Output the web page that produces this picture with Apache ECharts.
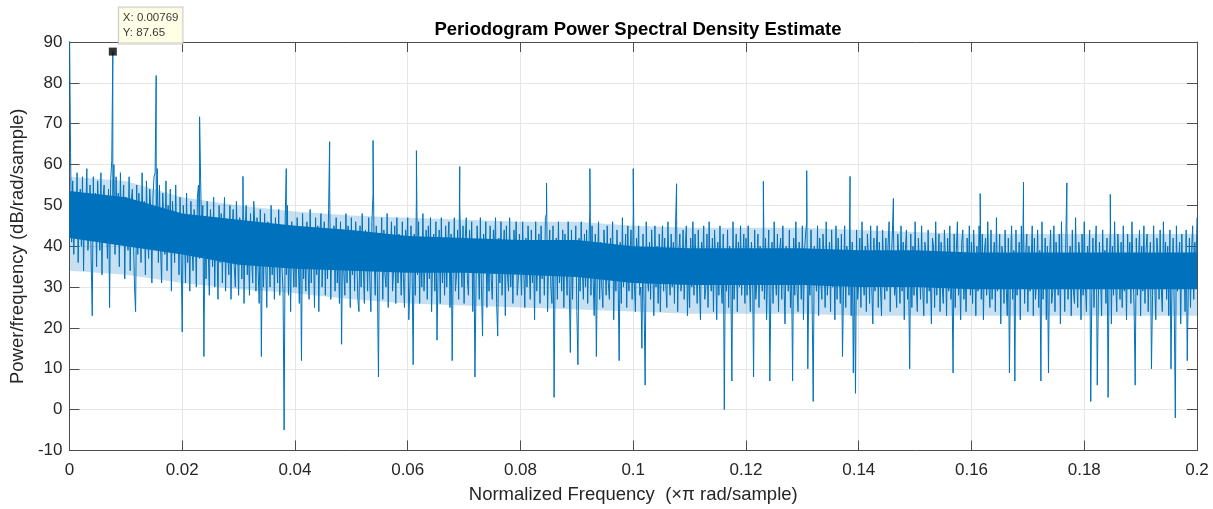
<!DOCTYPE html>
<html>
<head>
<meta charset="utf-8">
<script src="https://cdn.jsdelivr.net/npm/echarts@6/dist/echarts.min.js"></script>
<style>
html,body{margin:0;padding:0;background:#fff;}
#chart{width:1213px;height:509px;}
</style>
</head>
<body>
<div id="chart"></div>
<script>
// Periodogram values (dB/rad/sample), evenly spaced from 0 to 0.2 (x pi rad/sample)
const psd_000_004 = [
95,63,41,56,38,52,45,58,36,50,54,40,57,34,53,47,59,39,44,55,
37,23,57,42,53,35,56,48,39,58,33,52,55,41,50,37,54,25,56,61,
50,60,38,57,44,53,35,58,41,49,55,32,52,46,39,57,34,51,54,42,
30,24,55,38,53,47,36,58,40,51,33,56,44,37,54,49,31,52,57,58,
43,59,36,55,40,31,53,47,38,56,34,50,42,54,29,51,45,36,55,39,
48,33,52,38,19,50,44,31,53,36,47,29,51,40,34,49,45,30,52,55,
37,56,42,50,13,46,32,51,39,28,49,44,35,52,30,47,41,27,50,36,
48,31,44,52,29,46,38,33,50,27,43,49,35,30,51,40,28,47,45,32,
49,26,44,50,33,41,28,48,37,31,51,45,29,47,34,26,49,13,42,30,
48,36,25,46,40,30,50,33,44,27,47,38,31,49,28,45,35,29,-5,47,
33,50,28,41,24,46,37,30];
const psd_004_008 = [
45,30,47,38,26,44,12,48,32,41,29,46,35,27,49,31,44,40,25,47,
33,45,24,43,48,30,37,46,28,44,32,49,54,27,42,36,45,29,47,31,
40,26,46,16,44,34,28,48,31,45,39,25,47,33,43,29,46,37,27,24,
45,30,48,35,26,44,41,29,47,32,24,46,53,38,28,45,31,8,43,36,
47,27,44,33,30,48,25,42,37,46,29,34,45,26,47,31,43,39,28,46,
32,25,44,40,47,22,30,45,35,11,43,28,52,33,46,26,41,30,48,29,
36,44,27,45,32,47,24,38,43,29,46,17,34,44,26,47,31,42,28,45,
30,41,46,25,43,12,36,47,29,33,44,27,50,39,30,45,26,42,47,32,
28,44,35,46,24,41,8,31,45,38,27,47,30,18,43,34,46,25,40,29,
45,32,27,44,39,47,26,18,42,31,46,28,37,44,23,45,33,29,47,30,
41,26,44,35,46,28,32,43];
const psd_008_012 = [
43,28,46,34,25,42,30,45,36,27,44,31,41,22,46,29,37,43,26,45,
32,41,28,47,48,24,38,44,30,26,45,3,35,42,27,46,31,40,29,44,
25,43,37,28,46,30,14,44,27,41,33,45,24,11,42,29,46,35,27,43,
30,44,26,39,49,28,45,32,23,43,13,36,46,27,41,30,25,44,38,28,
45,31,27,42,35,46,22,40,29,44,33,12,41,26,47,30,36,43,25,45,
29,38,44,27,48,31,24,42,36,45,28,30,15,43,26,6,46,33,29,41,
27,44,35,23,45,30,40,26,43,24,37,45,29,42,31,25,46,34,28,43,
30,41,26,45,47,24,38,43,29,32,44,27,40,45,23,36,25,42,30,46,
28,43,35,26,44,31,22,41,37,45,27,30,43,25,46,33,29,42,24,44,
36,22,41,28,45,31,26,43,0,38,29,44,25,40,32,7,46,27,35,43,
24,41,30,45,28,37,43,26];
const psd_012_016 = [
42,28,45,33,24,41,36,8,44,27,31,43,25,40,38,29,45,27,42,22,
35,44,7,30,41,26,46,33,28,43,24,39,42,27,45,31,21,40,37,29,
44,25,34,7,42,28,46,30,24,41,36,27,45,22,39,43,46,10,32,28,
44,26,2,40,35,29,45,23,42,31,27,43,38,25,46,28,33,41,24,44,
30,39,22,45,27,42,34,26,43,13,30,45,25,40,36,28,45,23,41,9,
35,4,44,27,31,42,25,46,33,28,40,24,43,37,26,45,30,21,42,29,
38,45,25,41,30,23,44,34,27,42,29,40,46,24,36,43,45,28,31,25,
43,37,26,45,29,41,22,39,44,27,32,10,43,25,40,28,46,31,24,42,
36,27,45,30,23,41,38,26,44,29,33,21,42,40,25,46,28,35,43,24,
41,30,26,44,37,23,42,29,45,27,31,9,43,25,39,46,28,34,22,41,
44,27,36,24,42,30,45,28];
const psd_016_020 = [
41,26,44,35,23,40,29,45,37,27,43,22,39,42,28,46,31,25,44,27,
36,41,24,47,29,33,43,21,40,38,26,44,30,23,42,9,36,45,27,39,
7,44,28,34,41,22,45,30,46,26,38,43,24,40,29,35,45,23,42,27,
31,44,25,39,7,46,27,33,42,22,40,9,37,44,26,29,45,24,41,35,
28,43,21,46,30,38,24,42,45,27,34,40,23,44,29,26,47,32,25,41,
37,22,43,28,46,31,24,40,35,44,2,29,42,25,38,45,6,27,41,33,
23,44,30,39,26,42,3,35,44,21,40,28,46,31,24,43,36,27,41,25,
45,29,38,22,43,30,41,26,46,34,25,6,42,28,37,44,23,40,29,45,
26,39,43,24,35,41,10,28,45,31,22,42,38,27,44,30,24,46,33,41,
27,40,23,44,10,32,42,25,-2,45,29,36,41,21,43,30,38,24,44,12,
30,42,25,39,45,27,41,33,47];

// Harmonic peaks (x pi rad/sample) and their levels (dB/rad/sample)
const peakFreq = [0.00769,0.01538,0.02308,0.03077,0.03846,0.04615,0.05385,0.06154,0.06923,0.08462,0.09231,0.1,0.10769,0.12308,0.13077,0.13846,0.14615,0.16154,0.16923,0.17692,0.18462];
const peakDb   = [87.65,81.8,71.7,57.1,59,65.6,65.9,63.4,59.5,55.5,59,59,55.3,55.9,58.5,57.1,51.7,52.9,55.7,55.5,52.7];

// Where the trace is so dense it reads as a solid band (core) and a pale fringe, read every 0.01
const envFreq  = [0,0.01,0.02,0.03,0.04,0.05,0.06,0.07,0.08,0.09,0.1,0.11,0.12,0.13,0.14,0.15,0.16,0.17,0.18,0.19,0.2];
const coreLo   = [42,40,38,35.5,34.5,34,33.5,33.5,33,32.5,31,30.5,30.5,30.5,30,30,29.5,29.5,29.5,29.5,29.5];
const coreHi   = [53.5,52,48,46.5,45,44,42.5,42,41.5,41.5,40,39.5,39.5,39.5,39,39,38.5,38.5,38.5,38.5,38.5];
const fringeLo = [34,33,31,29.5,28.5,27,26,25.5,25,24.5,24,23.5,23.5,23.5,23,23,23,23,23,23,23];
const fringeHi = [57,56,52,50,48.5,47.5,47,46.5,46,46,45,44.5,44.5,44.5,44,43.5,43,43,43,43,43];

// Data tip
const tipX = 0.00769, tipY = 87.65;

const xTicks = {min:0, max:0.2, interval:0.02};
const yTicks = {min:-10, max:90, interval:10};

const noise = [].concat(psd_000_004, psd_004_008, psd_008_012, psd_012_016, psd_016_020);
const fMax = 0.2;
const step = fMax / (noise.length - 1);
let pts = noise.map((v, i) => [i * step, v]);
peakFreq.forEach((f, k) => {
  let idx = pts.findIndex(p => p[0] > f);
  if (idx < 0) idx = pts.length;
  pts.splice(idx, 0, [f, peakDb[k]]);
});

const blue = '#0072BD';
const axisCol = '#4d4d4d';
const txtCol = '#262626';
const font = 'Liberation Sans, Arial, Helvetica, sans-serif';

function bandSeries(lo, hi, color, z) {
  return {
    type: 'custom', silent: true, z: z,
    data: [[envFreq[0], lo[0]]],
    renderItem: function (params, api) {
      const top = envFreq.map((f, i) => api.coord([f, hi[i]]));
      const bot = envFreq.map((f, i) => api.coord([f, lo[i]])).reverse();
      return {type: 'polygon', shape: {points: top.concat(bot)}, style: {fill: color}};
    }
  };
}

const chart = echarts.init(document.getElementById('chart'), null, {renderer:'canvas'});
const fmtX = v => String(+v.toFixed(2));
chart.setOption({
  animation: false,
  backgroundColor: '#fff',
  title: {
    text: 'Periodogram Power Spectral Density Estimate',
    left: 633, top: 15, textAlign: 'center',
    textStyle: {fontFamily: font, fontWeight: 'bold', fontSize: 18.5, color: '#000'}
  },
  grid: {left: 69, right: 16, top: 42, bottom: 56, containLabel: false},
  xAxis: [{
    type: 'value', min: xTicks.min, max: xTicks.max, interval: xTicks.interval,
    position: 'bottom',
    name: 'Normalized Frequency  (\u00d7\u03c0 rad/sample)',
    nameLocation: 'middle', nameGap: 44,
    nameTextStyle: {fontFamily: font, fontSize: 18.5, color: txtCol, verticalAlign: 'middle'},
    axisLine: {show: true, onZero: false, lineStyle: {color: axisCol, width: 1}},
    axisTick: {show: true, inside: true, length: 10, lineStyle: {color: axisCol}},
    axisLabel: {fontFamily: font, fontSize: 17, color: txtCol, margin: 11, formatter: fmtX},
    splitLine: {show: true, lineStyle: {color: '#e6e6e6', width: 1}}
  }, {
    type: 'value', min: xTicks.min, max: xTicks.max, interval: xTicks.interval,
    position: 'top',
    axisLine: {show: true, onZero: false, lineStyle: {color: axisCol, width: 1}},
    axisTick: {show: true, inside: true, length: 10, lineStyle: {color: axisCol}},
    axisLabel: {show: false},
    splitLine: {show: false}
  }],
  yAxis: [{
    type: 'value', min: yTicks.min, max: yTicks.max, interval: yTicks.interval,
    position: 'left',
    name: 'Power/frequency (dB/rad/sample)',
    nameLocation: 'middle', nameGap: 45, nameRotate: 90,
    nameTextStyle: {fontFamily: font, fontSize: 18.5, color: txtCol, verticalAlign: 'middle'},
    axisLine: {show: true, onZero: false, lineStyle: {color: axisCol, width: 1}},
    axisTick: {show: true, inside: true, length: 10, lineStyle: {color: axisCol}},
    axisLabel: {fontFamily: font, fontSize: 17, color: txtCol, margin: 7},
    splitLine: {show: true, lineStyle: {color: '#e6e6e6', width: 1}}
  }, {
    type: 'value', min: yTicks.min, max: yTicks.max, interval: yTicks.interval,
    position: 'right',
    axisLine: {show: true, onZero: false, lineStyle: {color: axisCol, width: 1}},
    axisTick: {show: true, inside: true, length: 10, lineStyle: {color: axisCol}},
    axisLabel: {show: false},
    splitLine: {show: false}
  }],
  series: [
    bandSeries(fringeLo, fringeHi, 'rgba(0,114,189,0.22)', 1),
    bandSeries(coreLo, coreHi, blue, 2),
    {
      type: 'line',
      data: pts,
      showSymbol: false,
      clip: true,
      silent: true,
      lineStyle: {color: blue, width: 1},
      z: 3
    }, {
      type: 'scatter',
      data: [[tipX, tipY]],
      symbol: 'rect', symbolSize: 8,
      itemStyle: {color: '#000'},
      clip: false,
      z: 5,
      label: {
        show: true,
        position: [10, -40],
        formatter: 'X: ' + tipX + '\nY: ' + tipY,
        fontFamily: font, fontSize: 11.5, lineHeight: 15, color: '#000',
        backgroundColor: '#ffffe1', borderColor: '#bdbdbd', borderWidth: 1,
        padding: [3, 4, 3, 4], align: 'left', verticalAlign: 'top'
      }
    }
  ]
});
</script>
</body>
</html>
